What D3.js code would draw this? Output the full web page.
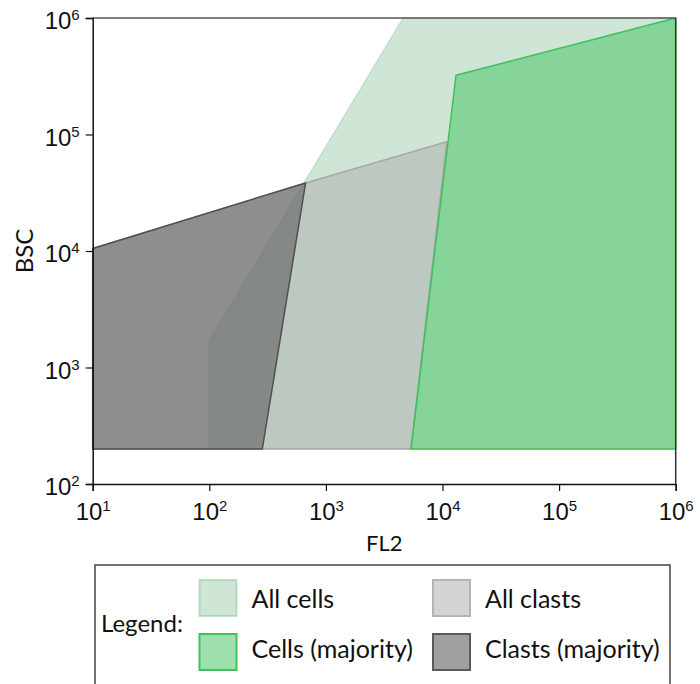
<!DOCTYPE html>
<html>
<head>
<meta charset="utf-8">
<script src="https://cdn.jsdelivr.net/npm/d3@7"></script>
<style>
  body { margin: 0; background: #fff; }
  svg { display: block; font-family: Lato, "Open Sans", sans-serif; }
</style>
</head>
<body>
<svg id="chart" width="700" height="684"></svg>
<script>
// gate polygons, [FL2, BSC]
const allCells = [[100, 200], [100, 1720], [4580, 1e6], [1e6, 1e6], [1e6, 200]]
const allClasts = [[10, 10500], [670, 38400], [10860, 86700], [5370, 200], [10, 200]]
const cellsMajority = [[5370, 200], [13060, 322000], [1e6, 1e6], [1e6, 200]]
const clastsMajority = [[10, 10500], [670, 38400], [285, 200], [10, 200]]

const xTicks = [1e1, 1e2, 1e3, 1e4, 1e5, 1e6]
const yTicks = [1e2, 1e3, 1e4, 1e5, 1e6]

const legendItems = [
  { label: 'All cells', fill: 'rgba(159,205,173,0.5)', stroke: 'rgba(120,190,140,0.45)', col: 0, row: 0 },
  { label: 'Cells (majority)', fill: 'rgba(67,195,97,0.52)', stroke: '#3ec05a', col: 0, row: 1 },
  { label: 'All clasts', fill: 'rgba(170,170,170,0.5)', stroke: '#b4b4b4', col: 1, row: 0 },
  { label: 'Clasts (majority)', fill: 'rgba(91,91,91,0.58)', stroke: '#5a5a5a', col: 1, row: 1 }
]

const margin = { left: 92.7, top: 18, right: 24.3, bottom: 200 }
const width = 700 - margin.left - margin.right
const height = 684 - margin.top - margin.bottom

const svg = d3.select('#chart')
const g = svg.append('g').attr('transform', `translate(${margin.left},${margin.top})`)

const x = d3.scaleLog().domain([1e1, 1e6]).range([0, width])
const y = d3.scaleLog().domain([1e2, 1e6]).range([height, 0])

const line = d3.line().x((d) => x(d[0])).y((d) => y(d[1]))

// draw order matters for the overlaps
const layers = [
  { data: allCells, fill: legendItems[0].fill, stroke: legendItems[0].stroke, w: 1 },
  { data: allClasts, fill: legendItems[2].fill, stroke: '#a8a8a8', w: 1.5 },
  { data: cellsMajority, fill: legendItems[1].fill, stroke: legendItems[1].stroke, w: 1.5 },
  { data: clastsMajority, fill: legendItems[3].fill, stroke: '#505050', w: 1.5 }
]

g.selectAll('path.gate')
  .data(layers)
  .enter()
  .append('path')
  .attr('class', 'gate')
  .attr('d', (d) => line(d.data) + 'Z')
  .attr('fill', (d) => d.fill)
  .attr('stroke', (d) => d.stroke)
  .attr('stroke-width', (d) => d.w)
  .attr('stroke-linejoin', 'round')

// frame top / right
g.append('line').attr('x1', 0).attr('x2', width).attr('y1', 0).attr('y2', 0)
  .attr('stroke', '#555').attr('stroke-width', 1.5)
g.append('line').attr('x1', width).attr('x2', width).attr('y1', 0).attr('y2', height)
  .attr('stroke', '#333').attr('stroke-width', 1.5)

const supLabel = (sel) => {
  sel.each(function (d) {
    const t = d3.select(this)
    t.text(null)
    t.append('tspan').text('10')
    t.append('tspan').attr('font-size', 15).attr('dy', '-0.62em').text(Math.round(Math.log10(d)))
  })
}

const xAxis = g.append('g')
  .attr('transform', `translate(0,${height})`)
  .call(d3.axisBottom(x).tickValues(xTicks).tickSize(7).tickPadding(12))
xAxis.selectAll('text').attr('font-size', 24).attr('fill', '#111').call(supLabel)

const yAxis = g.append('g')
  .call(d3.axisLeft(y).tickValues(yTicks).tickSize(7).tickPadding(6))
yAxis.selectAll('text').attr('font-size', 24).attr('fill', '#111').attr('dy', '0.45em').call(supLabel)

g.selectAll('.domain').attr('stroke', '#111').attr('stroke-width', 1.5)
g.selectAll('.tick line').attr('stroke', '#111').attr('stroke-width', 1.2)

// axis titles
svg.append('text')
  .attr('x', margin.left + width / 2)
  .attr('y', 551)
  .attr('text-anchor', 'middle')
  .attr('font-size', 22)
  .attr('fill', '#111')
  .text('FL2')

svg.append('text')
  .attr('transform', `translate(33,${margin.top + height / 2}) rotate(-90)`)
  .attr('text-anchor', 'middle')
  .attr('font-size', 24)
  .attr('fill', '#111')
  .text('BSC')

// legend
const legend = svg.append('g')
legend.append('rect')
  .attr('x', 95).attr('y', 565).attr('width', 575).attr('height', 140)
  .attr('fill', '#fff').attr('stroke', '#444').attr('stroke-width', 1.5)

legend.append('text')
  .attr('x', 101).attr('y', 632)
  .attr('font-size', 24).attr('fill', '#111')
  .text('Legend:')

const entry = legend.selectAll('g.entry')
  .data(legendItems)
  .enter()
  .append('g')
  .attr('class', 'entry')
  .attr('transform', (d) => `translate(${d.col ? 433 : 199.5},${d.row ? 634 : 580})`)

entry.append('rect')
  .attr('width', 37).attr('height', 36)
  .attr('fill', (d) => d.fill)
  .attr('stroke', (d) => d.stroke)
  .attr('stroke-width', 2)

entry.append('text')
  .attr('x', 52)
  .attr('y', (d) => (d.row ? 24 : 28))
  .attr('font-size', 25)
  .attr('fill', '#111')
  .text((d) => d.label)
</script>
</body>
</html>
